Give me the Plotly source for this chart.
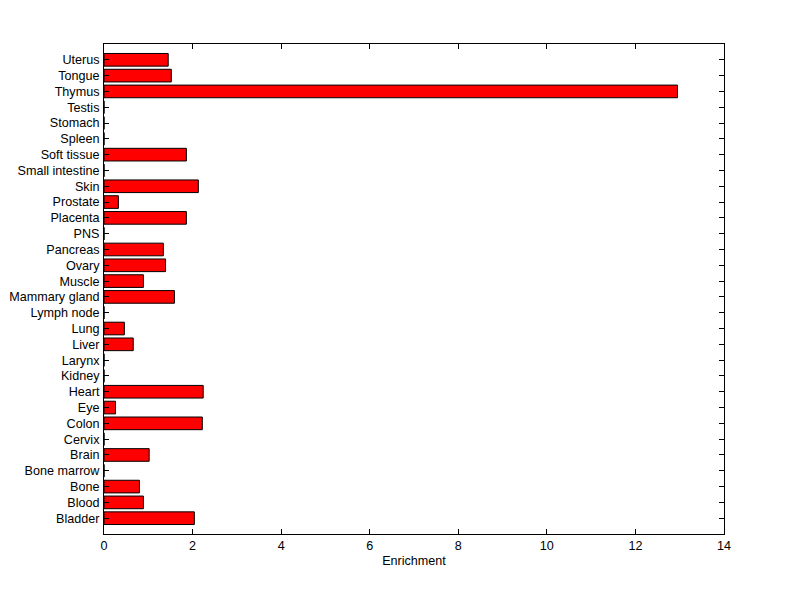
import plotly.graph_objects as go

tissues = ["Bladder", "Blood", "Bone", "Bone marrow", "Brain", "Cervix", "Colon", "Eye",
           "Heart", "Kidney", "Larynx", "Liver", "Lung", "Lymph node", "Mammary gland",
           "Muscle", "Ovary", "Pancreas", "PNS", "Placenta", "Prostate", "Skin",
           "Small intestine", "Soft tissue", "Spleen", "Stomach", "Testis", "Thymus",
           "Tongue", "Uterus"]
enrichment = [2.04, 0.89, 0.80, 0, 1.02, 0, 2.22, 0.26,
              2.24, 0, 0, 0.66, 0.46, 0, 1.59,
              0.89, 1.39, 1.34, 0, 1.86, 0.325, 2.13,
              0, 1.86, 0, 0, 0, 12.95,
              1.52, 1.45]
x_ticks = [0, 2, 4, 6, 8, 10, 12, 14]

fig = go.Figure(go.Bar(
    x=enrichment, y=tissues, orientation="h",
    marker=dict(color="#FF0000", line=dict(color="black", width=1)),
    width=0.8,
))

axis_font = dict(family="Liberation Sans, Arial, sans-serif", size=12.6, color="black")
fig.update_layout(
    width=800, height=599,
    margin=dict(l=96, r=84, t=36, b=73, autoexpand=False),
    paper_bgcolor="white", plot_bgcolor="white",
    showlegend=False,
    font=axis_font,
    xaxis=dict(
        range=[0, 14], tickvals=x_ticks, ticks="inside", ticklen=5, tickcolor="black",
        showline=True, linecolor="black", linewidth=1, mirror="allticks",
        showgrid=False, zeroline=False, automargin=False,
        title=dict(text="Enrichment", font=axis_font, standoff=4),
        tickfont=axis_font,
    ),
    yaxis=dict(
        type="category", categoryorder="array", categoryarray=tissues,
        tickmode="array", tickvals=tissues, ticktext=tissues,
        range=[-1, len(tissues)], ticks="inside", ticklen=5, tickcolor="black",
        showline=True, linecolor="black", linewidth=1, mirror="allticks",
        showgrid=False, zeroline=False, automargin=False,
        tickfont=axis_font, ticklabelstandoff=1,
    ),
)

fig.write_html("out.html")
